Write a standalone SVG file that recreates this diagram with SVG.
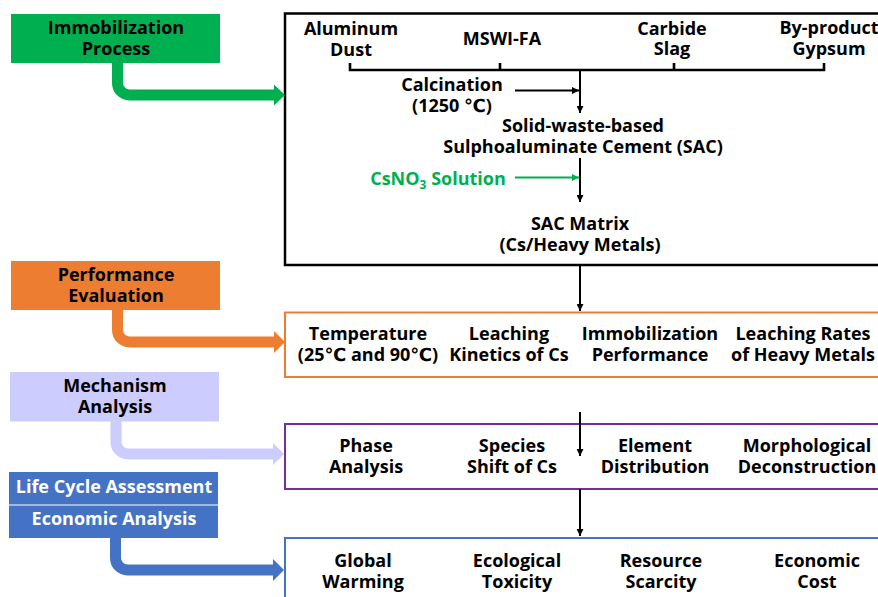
<svg xmlns="http://www.w3.org/2000/svg" width="878" height="597" viewBox="0 0 878 597">
<defs>
<style>
text{font-family:"Open Sans","DejaVu Sans",sans-serif;font-weight:bold;font-size:18px;fill:#000;text-anchor:middle}
.w{fill:#fff}
.g{fill:#00B050}
.ln{stroke:#000;stroke-width:2;fill:none}
.bus{stroke:#000;stroke-width:2.6;fill:none}
.big{fill:none;stroke-width:11}
</style>
<marker id="ah" viewBox="0 0 10 10" refX="10" refY="5" markerWidth="7" markerHeight="7" markerUnits="userSpaceOnUse" orient="auto">
<path d="M0,0 L10,5 L0,10 z" fill="#000"/>
</marker>
<marker id="ahg" viewBox="0 0 10 10" refX="10" refY="5" markerWidth="7" markerHeight="7" markerUnits="userSpaceOnUse" orient="auto">
<path d="M0,0 L10,5 L0,10 z" fill="#00B050"/>
</marker>
</defs>
<rect width="878" height="597" fill="#fff"/>

<g id="immobilization-process">
<rect x="11" y="14" width="209" height="49" fill="#00B050"/>
<text x="116" y="34">Immobilization<tspan x="116" dy="21">Process</tspan></text>
</g>
<g id="performance-evaluation">
<rect x="11" y="261" width="209" height="49" fill="#ED7D31"/>
<text x="116" y="281">Performance<tspan x="116" dy="21">Evaluation</tspan></text>
</g>
<g id="mechanism-analysis">
<rect x="10" y="372" width="209" height="49.5" fill="#CCCCFF"/>
<text x="115" y="392">Mechanism<tspan x="115" dy="21">Analysis</tspan></text>
</g>
<g id="lca-economic">
<rect x="9" y="472" width="209" height="66" fill="#4472C4"/>
<line x1="9" y1="505" x2="218" y2="505" stroke="#fff" stroke-width="1"/>
<text class="w" x="114" y="493">Life Cycle Assessment</text>
<text class="w" x="114" y="525">Economic Analysis</text>
</g>

<g id="process-box">
<rect x="285" y="13.5" width="620" height="251.5" fill="none" stroke="#000" stroke-width="2.5"/>
<text x="351" y="35">Aluminum<tspan x="351" dy="21">Dust</tspan></text>
<text x="502" y="45">MSWI-FA</text>
<text x="672" y="34.5">Carbide<tspan x="672" dy="20.5">Slag</tspan></text>
<text x="829" y="34">By-product<tspan x="829" dy="21">Gypsum</tspan></text>
<text x="452" y="90.5">Calcination<tspan x="452" dy="21.5">(1250 ℃)</tspan></text>
<text x="583" y="132">Solid-waste-based<tspan x="583" dy="21">Sulphoaluminate Cement (SAC)</tspan></text>
<text class="g" x="438" y="185">CsNO<tspan font-size="12" dy="4">3</tspan><tspan dy="-4"> Solution</tspan></text>
<text x="580" y="230">SAC Matrix<tspan x="580" dy="21">(Cs/Heavy Metals)</tspan></text>
</g>

<g id="performance-box">
<rect x="285" y="312.5" width="620" height="64.5" fill="none" stroke="#ED7D31" stroke-width="2"/>
<text x="368" y="340">Temperature<tspan x="368" dy="21">(25℃ and 90℃)</tspan></text>
<text x="509" y="340">Leaching<tspan x="509" dy="21">Kinetics of Cs</tspan></text>
<text x="650" y="340">Immobilization<tspan x="650" dy="21">Performance</tspan></text>
<text x="803" y="340">Leaching Rates<tspan x="803" dy="21">of Heavy Metals</tspan></text>
</g>

<g id="mechanism-box">
<rect x="285" y="424" width="620" height="65" fill="none" stroke="#7030A0" stroke-width="2"/>
<text x="366" y="452">Phase<tspan x="366" dy="21">Analysis</tspan></text>
<text x="512" y="452">Species<tspan x="512" dy="21">Shift of Cs</tspan></text>
<text x="655" y="452">Element<tspan x="655" dy="21">Distribution</tspan></text>
<text x="807" y="452">Morphological<tspan x="807" dy="21">Deconstruction</tspan></text>
</g>

<g id="assessment-box">
<rect x="285" y="538" width="620" height="80" fill="none" stroke="#4472C4" stroke-width="2"/>
<text x="363" y="567">Global<tspan x="363" dy="21">Warming</tspan></text>
<text x="517" y="567">Ecological<tspan x="517" dy="21">Toxicity</tspan></text>
<text x="661" y="567">Resource<tspan x="661" dy="21">Scarcity</tspan></text>
<text x="817" y="567">Economic<tspan x="817" dy="21">Cost</tspan></text>
</g>

<g id="connectors">
<path class="bus" d="M350,63 V70 H824 V63 M500,63 V70 M674,63 V70"/>
<line class="ln" x1="580" y1="70" x2="580" y2="113" marker-end="url(#ah)"/>
<line class="ln" x1="515" y1="90.5" x2="579" y2="90.5" marker-end="url(#ah)"/>
<line class="ln" x1="580" y1="158" x2="580" y2="202" marker-end="url(#ah)"/>
<line x1="515" y1="177.5" x2="579" y2="177.5" stroke="#00B050" stroke-width="2" marker-end="url(#ahg)"/>
<line class="ln" x1="580" y1="265" x2="580" y2="311" marker-end="url(#ah)"/>
<line class="ln" x1="580" y1="412" x2="580" y2="456" marker-end="url(#ah)"/>
<line class="ln" x1="580" y1="489" x2="580" y2="536" marker-end="url(#ah)"/>

<path class="big" stroke="#00B050" d="M117.5,63 V83 A12,12 0 0 0 129.5,95 H275"/>
<path d="M274,84.5 L285,95 L274,105.5 z" fill="#00B050"/>
<path class="big" stroke="#ED7D31" d="M117.5,310 V330 A12,12 0 0 0 129.5,342 H275"/>
<path d="M274,331 L285,342 L274,353 z" fill="#ED7D31"/>
<path class="big" stroke="#CCCCFF" d="M116,421 V442 A12,12 0 0 0 128,454 H274"/>
<path d="M273,443 L284,454 L273,465 z" fill="#CCCCFF"/>
<path class="big" stroke="#4472C4" d="M115.5,538 V558 A12,12 0 0 0 127.5,570 H274"/>
<path d="M273,559 L284,570 L273,581 z" fill="#4472C4"/>
</g>
</svg>
